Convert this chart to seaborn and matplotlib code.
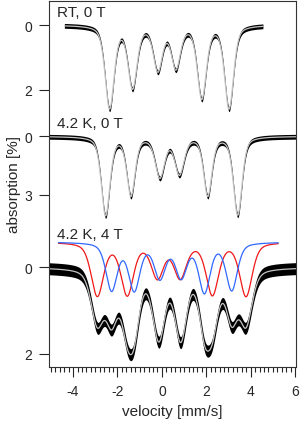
import numpy as np
import pandas as pd
import matplotlib
matplotlib.use("Agg")
import matplotlib.pyplot as plt
from matplotlib.ticker import MultipleLocator
import seaborn as sns

# Moessbauer line parameters (velocity mm/s, absorption %, HWHM mm/s)
rt_pos = [-2.355, -1.321, -0.18, 0.629, 1.798, 3.025]
rt_depth = [2.53, 1.88, 1.34, 1.27, 2.21, 2.54]
rt_width = [0.24, 0.24, 0.24, 0.24, 0.24, 0.24]

lt_pos = [-2.535, -1.393, -0.09, 0.791, 2.067, 3.416]
lt_depth = [4.02, 2.97, 2.03, 1.87, 2.99, 4.00]
lt_width = [0.23, 0.22, 0.25, 0.25, 0.22, 0.23]

red_pos = [-2.908, -1.56, -0.198, 0.822, 2.274, 3.789]
red_depth = [1.22, 1.19, 0.79, 0.79, 1.19, 1.23]
red_width = [0.33, 0.33, 0.33, 0.33, 0.33, 0.33]

blue_pos = [-2.265, -1.245, -0.09, 0.867, 1.915, 3.146]
blue_depth = [1.09, 1.08, 0.80, 0.78, 1.13, 1.09]
blue_width = [0.30, 0.30, 0.30, 0.30, 0.30, 0.30]

labels = ["RT, 0 T", "4.2 K, 0 T", "4.2 K, 4 T"]
yticks_pct = [[0, 2], [0, 3], [0, 2]]
comp_shift = -0.584  # sub-spectra drawn above the 4 T data
lorentz_frac = 0.45  # pseudo-Voigt line shape

# stacking: where 0 % sits and how many px one % takes, per panel
zero_px = [26.0, 137.3, 268.3]
px_per_pct = [32.5, 19.47, 43.35]
noise_px = [2.4, 2.4, 6.0]
label_px = [17.3, 128.3, 239.0]

xmin, xmax = -5.07, 6.04
ytop, ybot = 2.0, 367.7


def sextet(v, pos, depth, width):
    out = np.zeros_like(v)
    for p, d, w in zip(pos, depth, width):
        u = (v - p) / w
        shape = lorentz_frac / (1 + u**2) + (1 - lorentz_frac) * np.exp(-np.log(2) * u**2)
        out += d * shape
    return out


sns.set_style("ticks")
plt.rcParams['font.family'] = ['Liberation Sans', 'DejaVu Sans']
plt.rcParams['axes.unicode_minus'] = False

fig = plt.figure(figsize=(3.0, 4.27), dpi=100)
ax = fig.add_axes([49.3/300, 1 - ybot/427, (296 - 49.3)/300, (ybot - ytop)/427])

v_rt = np.linspace(-4.39, 4.55, 1500)
v_full = np.linspace(xmin, xmax, 1800)
v_comp = np.linspace(-4.66, 5.24, 1500)

fits = [
    (v_rt, sextet(v_rt, rt_pos, rt_depth, rt_width)),
    (v_full, sextet(v_full, lt_pos, lt_depth, lt_width)),
    (v_full, sextet(v_full, red_pos, red_depth, red_width)
     + sextet(v_full, blue_pos, blue_depth, blue_width)),
]

for i, (v, a) in enumerate(fits):
    y = zero_px[i] + px_per_pct[i] * a
    ax.fill_between(v, y - noise_px[i], y + noise_px[i], color='black', lw=0)
    df = pd.DataFrame({'velocity': v, 'y': y})
    sns.lineplot(data=df, x='velocity', y='y', ax=ax, color='#c4c4c4', lw=0.9,
                 sort=False, estimator=None)
    ax.text(-4.72, label_px[i], labels[i], fontsize=11, va='baseline')

# sub-spectra of the 4 T measurement
for pos, depth, width, col in [(red_pos, red_depth, red_width, '#f01818'),
                               (blue_pos, blue_depth, blue_width, '#3068ff')]:
    a = comp_shift + sextet(v_comp, pos, depth, width)
    y = zero_px[2] + px_per_pct[2] * a
    sns.lineplot(x=v_comp, y=y, ax=ax, color=col, lw=0.9, sort=False, estimator=None)

ticks, ticklabels = [], []
for i in range(3):
    for t in yticks_pct[i]:
        ticks.append(zero_px[i] + px_per_pct[i] * t)
        ticklabels.append(str(t))
ax.set_yticks(ticks)
ax.set_yticklabels(ticklabels)

ax.set_xlim(xmin, xmax)
ax.set_ylim(ybot, ytop)
ax.set_xticks([-4, -2, 0, 2, 4, 6])
ax.xaxis.set_minor_locator(MultipleLocator(0.2))
ax.tick_params(axis='both', which='major', labelsize=10, length=7.5, width=0.8,
               direction='out', pad=5)
ax.tick_params(axis='x', which='minor', length=3.5, width=0.8, direction='out')
ax.tick_params(axis='y', which='minor', left=False)
for s in ax.spines.values():
    s.set_linewidth(0.8)
    s.set_color('#333333')

ax.set_xlabel('velocity [mm/s]', fontsize=11, labelpad=4)
ax.set_ylabel('absorption [%]', fontsize=11, labelpad=2)

fig.savefig('out.png', dpi=100)
